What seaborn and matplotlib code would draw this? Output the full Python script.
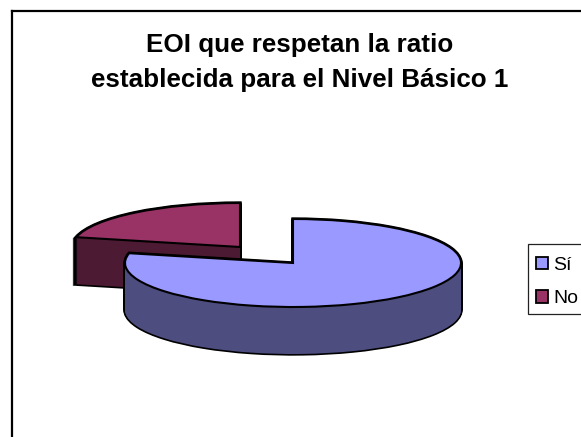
import matplotlib
matplotlib.use("Agg")
import matplotlib.pyplot as plt
import seaborn as sns
from matplotlib.patches import Patch, Rectangle
from matplotlib.lines import Line2D

categories = ["Sí", "No"]
values = [11, 3]

sns.set_theme(style="white")
plt.rcParams["font.family"] = ["Liberation Sans", "DejaVu Sans"]
top_colors = sns.color_palette(["#9999FF", "#993366"])
wall_colors = sns.color_palette(["#4D4D80", "#4D1A33"])

W, H = 581, 437
CX, CY, RX, RY = 293, 263, 168, 44   # blue pie centre and radii, in pixels
DEPTH = 47
RED_DX, RED_DY = -53, -16            # offset of the exploded slice, in pixels

fig = plt.figure(figsize=(W / 100, H / 100), dpi=100, facecolor="white")
ax = fig.add_axes([0, 0, 1, 1])


def layer(idx, dx_px, dy_px, face, edge, lw):
    wedges, _ = ax.pie(
        values, startangle=90, counterclock=False, radius=1,
        center=(dx_px / RX, -dy_px / RY),
        colors=[face, face],
        wedgeprops=dict(edgecolor=edge, linewidth=lw, joinstyle="miter"),
    )
    wedges[1 - idx].set_visible(False)


def solid(idx, dx, dy):
    for d in range(DEPTH + 1):
        layer(idx, dx, dy + d, wall_colors[idx], "black", 2.4)
    for d in range(DEPTH + 1):
        layer(idx, dx, dy + d, wall_colors[idx], "none", 0)
    layer(idx, dx, dy, top_colors[idx], "black", 1.5)


solid(1, RED_DX, RED_DY)
solid(0, 0, 0)

ax.set_aspect("auto")
ax.set_xlim((0 - CX) / RX, (W - CX) / RX)
ax.set_ylim((CY - H) / RY, CY / RY)
ax.axis("off")

# chart-area frame (left and top sides visible, others run off the image)
fig.add_artist(Line2D([11.5 / W, 11.5 / W], [0, 1 - 10.5 / H], color="black", lw=1.6,
                      transform=fig.transFigure, solid_capstyle="projecting"))
fig.add_artist(Line2D([11.5 / W, 1], [1 - 10.5 / H, 1 - 10.5 / H], color="black", lw=1.6,
                      transform=fig.transFigure, solid_capstyle="projecting"))

fig.text(300 / W, 1 - 62.5 / H, "EOI que respetan la ratio\nestablecida para el Nivel Básico 1",
         ha="center", va="center", fontsize=18.7, fontweight="bold", color="black",
         linespacing=1.56)

# legend frame runs off the right edge of the image
fig.add_artist(Rectangle((527.5 / W, 1 - 313.5 / H), 70 / W, 70 / H, transform=fig.transFigure,
                         facecolor="white", edgecolor="#222222", linewidth=0.9, zorder=2))
handles = [Patch(facecolor=top_colors[i], edgecolor="black", linewidth=1.3) for i in range(2)]
leg = fig.legend(handles, categories, loc="upper left",
                 bbox_to_anchor=(535.5 / W, 1 - 256.5 / H), bbox_transform=fig.transFigure,
                 fontsize=14, frameon=False, borderaxespad=0, handlelength=0.62, handleheight=0.62,
                 handletextpad=0.3, labelspacing=0.85, borderpad=0)
leg.set_zorder(3)
for t in leg.get_texts():
    t.set_color("black")

fig.savefig("out.png", dpi=100, facecolor="white")
